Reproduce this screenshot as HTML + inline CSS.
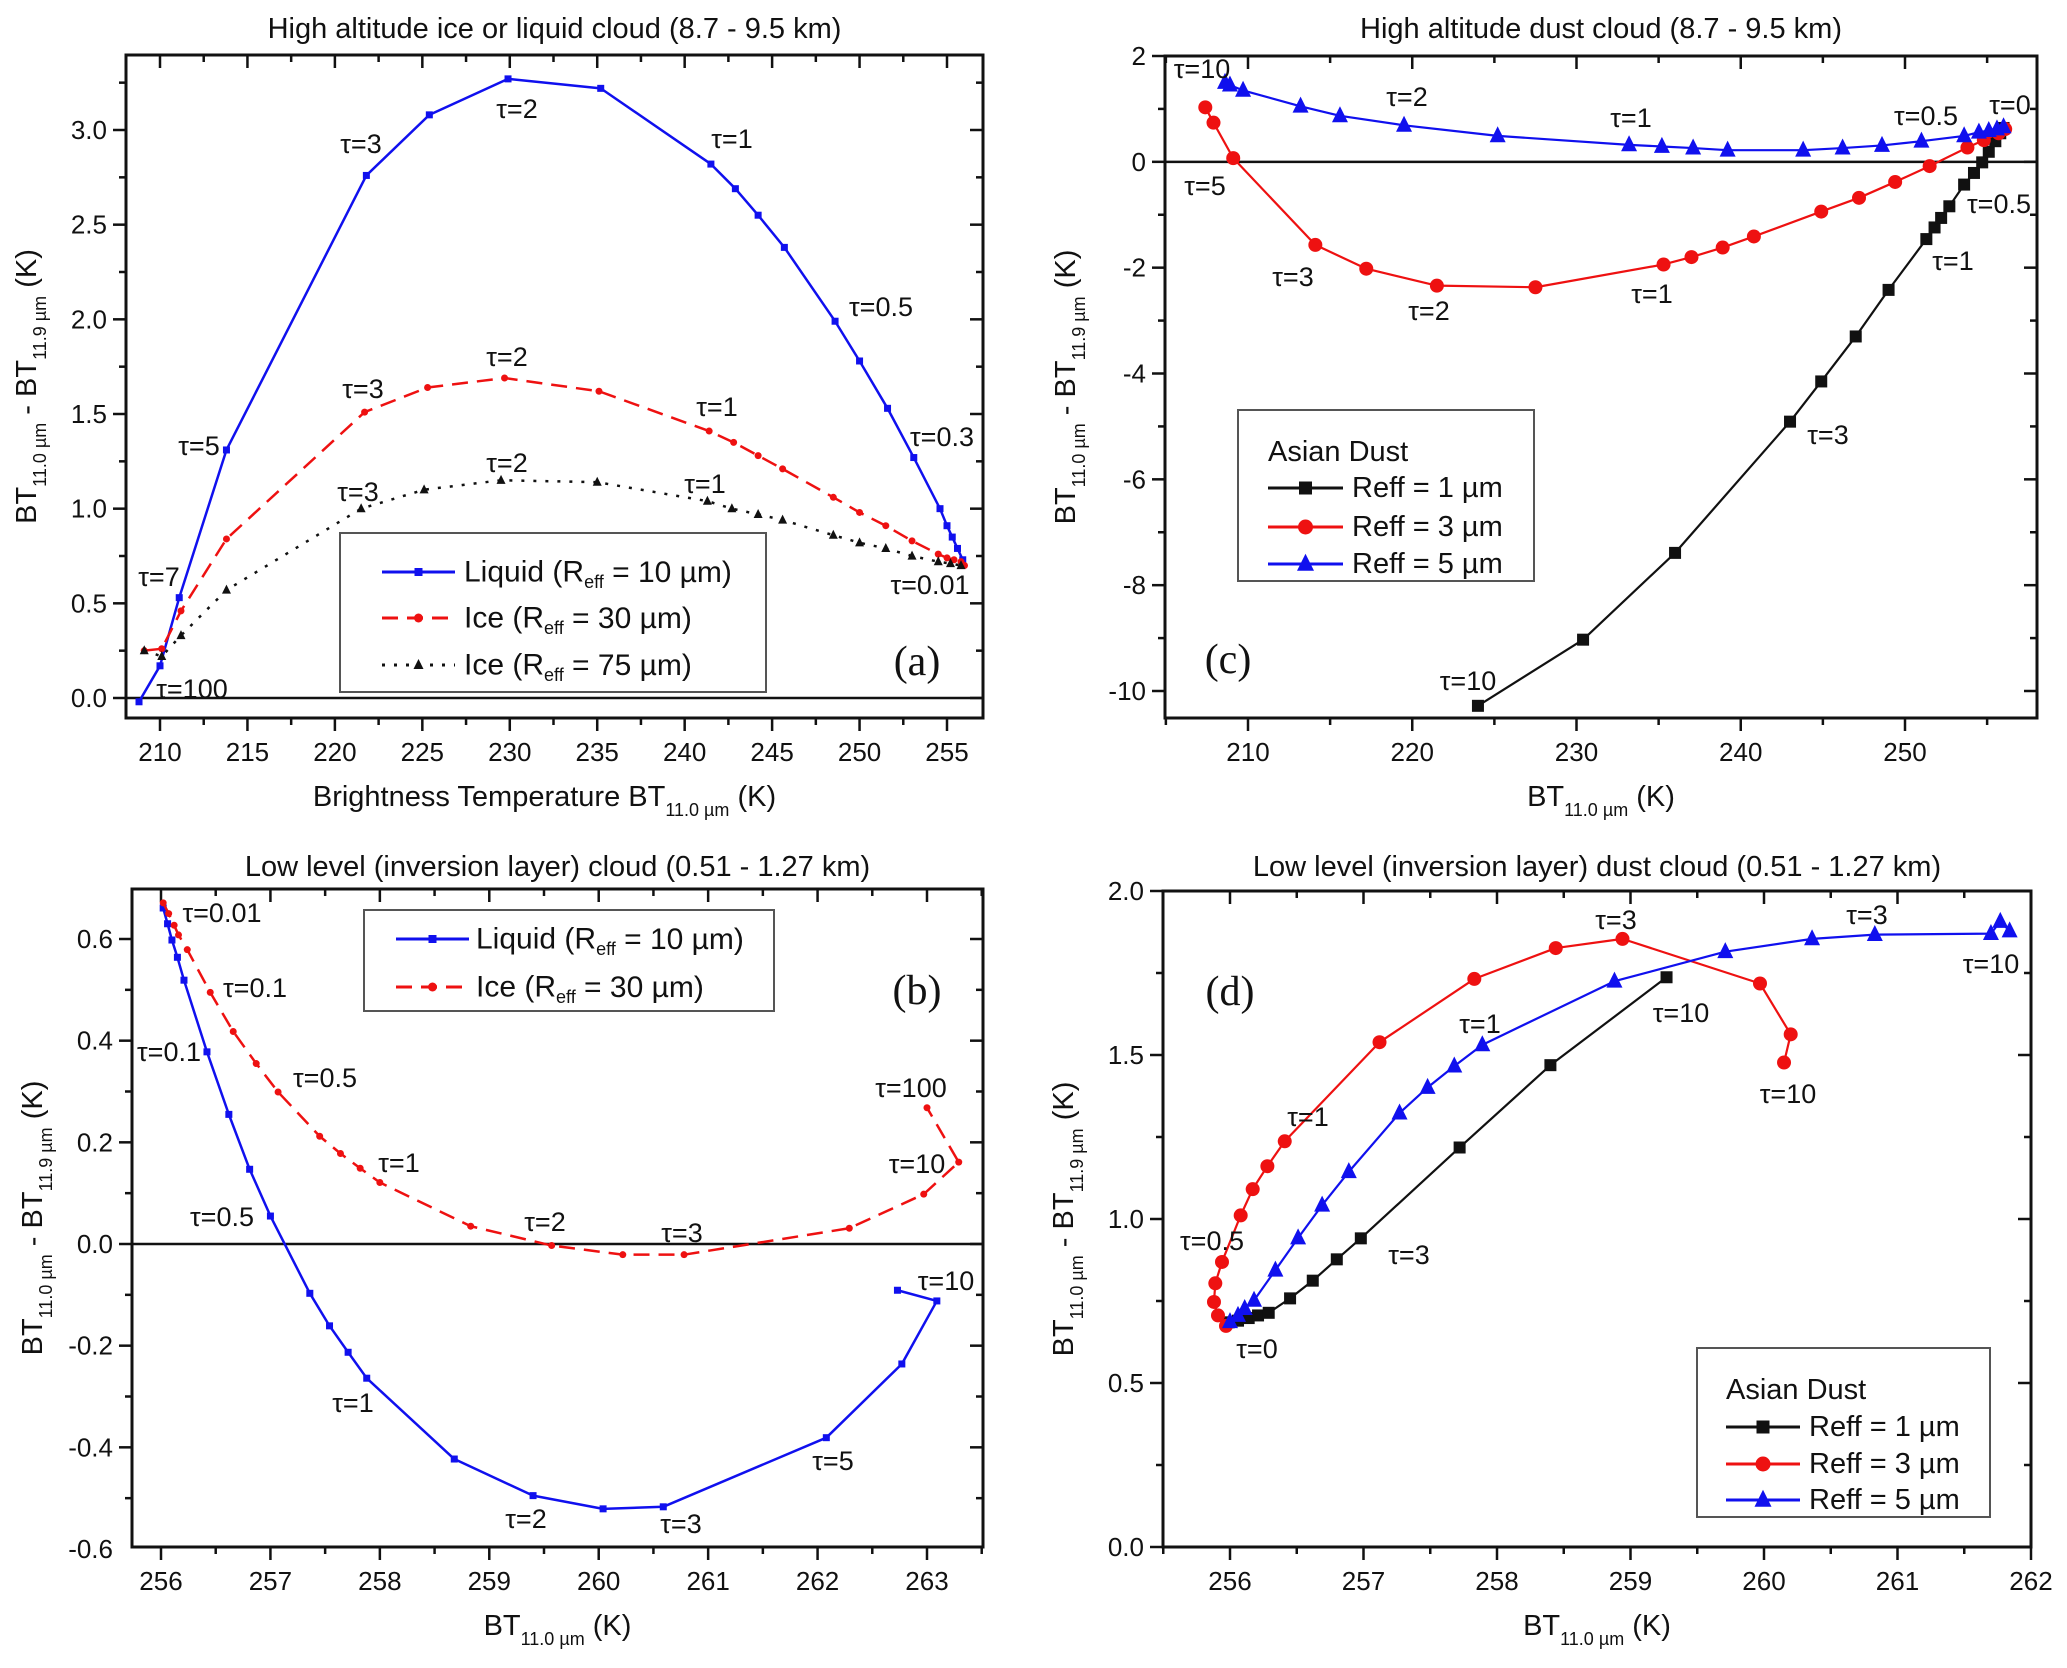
<!DOCTYPE html>
<html><head><meta charset="utf-8">
<style>
html,body{margin:0;padding:0;background:#fff;}
svg{display:block;font-family:"Liberation Sans",Arial,sans-serif;}
</style></head>
<body>
<svg id="fig" width="2067" height="1668" viewBox="0 0 2067 1668" xmlns="http://www.w3.org/2000/svg"></svg>
<script>
// ---------- Panel (a) data ----------
const aLiqX=[208.8,210,211.1,213.8,221.8,225.4,229.9,235.2,241.5,242.9,244.2,245.7,248.6,250.0,251.6,253.1,254.6,255.0,255.3,255.6,255.9];
const aLiqY=[-0.02,0.17,0.53,1.31,2.76,3.08,3.27,3.22,2.82,2.69,2.55,2.38,1.99,1.78,1.53,1.27,1.0,0.91,0.85,0.79,0.73];
const aIce30X=[209.1,210.1,211.2,213.8,221.7,225.3,229.7,235.1,241.4,242.8,244.2,245.6,248.5,250.0,251.5,253.0,254.5,255.0,255.4,255.8,256.0];
const aIce30Y=[0.25,0.26,0.46,0.84,1.51,1.64,1.69,1.62,1.41,1.35,1.28,1.21,1.06,0.98,0.91,0.83,0.76,0.74,0.73,0.72,0.70];
const aIce75X=[209.1,210.1,211.2,213.8,221.5,225.1,229.5,235.0,241.3,242.7,244.2,245.6,248.5,250.0,251.5,253.0,254.5,255.2,255.8];
const aIce75Y=[0.25,0.22,0.33,0.57,1.0,1.1,1.15,1.14,1.04,1.0,0.97,0.94,0.86,0.82,0.79,0.75,0.72,0.71,0.70];
// ---------- Panel (c) data ----------
const cR1X=[224.0,230.4,236.0,243.0,244.9,247.0,249.0,251.3,251.8,252.2,252.7,253.6,254.2,254.7,255.1,255.5,255.8,256.0];
const cR1Y=[-10.28,-9.03,-7.39,-4.91,-4.15,-3.30,-2.42,-1.46,-1.24,-1.06,-0.84,-0.43,-0.21,-0.01,0.19,0.39,0.54,0.64];
const cR3X=[207.4,207.9,209.1,214.1,217.2,221.5,227.5,235.3,237.0,238.9,240.8,244.9,247.2,249.4,251.5,253.8,254.8,255.7,256.1];
const cR3Y=[1.03,0.74,0.07,-1.57,-2.02,-2.34,-2.37,-1.94,-1.80,-1.62,-1.41,-0.94,-0.68,-0.38,-0.08,0.27,0.41,0.54,0.62];
const cR5X=[208.6,208.9,209.7,213.2,215.6,219.5,225.2,233.2,235.2,237.1,239.2,243.8,246.2,248.6,251.0,253.6,254.5,255.1,255.6,256.0];
const cR5Y=[1.50,1.45,1.35,1.05,0.87,0.69,0.49,0.32,0.29,0.26,0.22,0.22,0.26,0.31,0.39,0.49,0.56,0.59,0.62,0.66];
// ---------- Panel (b) data ----------
const bLiqX=[256.02,256.06,256.1,256.15,256.21,256.42,256.62,256.81,257.0,257.36,257.54,257.71,257.88,258.68,259.40,260.04,260.59,262.08,262.77,263.09,262.73];
const bLiqY=[0.661,0.63,0.598,0.564,0.519,0.378,0.255,0.147,0.055,-0.097,-0.161,-0.213,-0.264,-0.423,-0.495,-0.521,-0.517,-0.381,-0.236,-0.112,-0.091];
const bIceX=[256.02,256.07,256.12,256.16,256.24,256.45,256.66,256.87,257.07,257.45,257.64,257.82,258.0,258.83,259.57,260.22,260.78,262.29,262.97,263.29,263.0];
const bIceY=[0.671,0.65,0.627,0.608,0.579,0.495,0.418,0.355,0.299,0.212,0.178,0.149,0.121,0.035,-0.003,-0.021,-0.021,0.031,0.098,0.161,0.268];
// ---------- Panel (d) data ----------
const dR1X=[255.99,256.06,256.14,256.21,256.29,256.45,256.62,256.8,256.98,257.72,258.4,259.27];
const dR1Y=[0.685,0.69,0.698,0.706,0.714,0.758,0.812,0.877,0.941,1.218,1.469,1.737];
const dR3X=[255.97,255.91,255.88,255.89,255.94,256.08,256.17,256.28,256.41,257.12,257.83,258.44,258.94,259.97,260.2,260.15];
const dR3Y=[0.674,0.706,0.747,0.804,0.869,1.011,1.091,1.161,1.237,1.539,1.732,1.826,1.854,1.718,1.563,1.477];
const dR5X=[256.0,256.06,256.11,256.18,256.34,256.51,256.69,256.89,257.27,257.48,257.68,257.89,258.88,259.71,260.36,260.83,261.7,261.77,261.84];
const dR5Y=[0.687,0.706,0.727,0.752,0.844,0.942,1.042,1.144,1.323,1.401,1.466,1.531,1.725,1.815,1.854,1.867,1.87,1.907,1.878];
// tick labels
const aXTicks=[210,215,220,225,230,235,240,245,250,255];
const aYTicks=["0.0","0.5","1.0","1.5","2.0","2.5","3.0"];
const cXTicks=[210,220,230,240,250];
const cYTicks=["-10","-8","-6","-4","-2","0","2"];
const bXTicks=[256,257,258,259,260,261,262,263];
const bYTicks=["-0.6","-0.4","-0.2","0.0","0.2","0.4","0.6"];
const dXTicks=[256,257,258,259,260,261,262];
const dYTicks=["0.0","0.5","1.0","1.5","2.0"];

const NS="http://www.w3.org/2000/svg";
const svg=document.getElementById('fig');
function mk(tag,attrs,parent){const e=document.createElementNS(NS,tag);for(const k in attrs)e.setAttribute(k,attrs[k]);(parent||svg).appendChild(e);return e;}
function lin(d0,d1,p0,p1){return v=>p0+(v-d0)*(p1-p0)/(d1-d0);}

function panel(P){
  const g=mk('g',{});
  
  
  const sx=lin(P.x0,P.x1,P.L,P.R), sy=lin(P.y0,P.y1,P.B,P.T);
  P.sx=sx;P.sy=sy;
  const t=mk('text',{x:(P.L+P.R)/2,y:P.titleY,'text-anchor':'middle','font-size':29,fill:'#111'},g);
  t.textContent=P.title;
  
  
  const tg=mk('g',{stroke:'#111','stroke-width':2.5},g);
  for(let v=P.xMinStart;v<=P.x1+1e-9;v+=P.xMinor){
    const major=Math.abs((v-P.xMajStart)/P.xMajor-Math.round((v-P.xMajStart)/P.xMajor))<1e-6;
    const x=sx(v); if(x<P.L-0.5||x>P.R+0.5)continue;
    const len=major?13:7;
    mk('line',{x1:x,x2:x,y1:P.B,y2:P.B+len},tg);
    mk('line',{x1:x,x2:x,y1:P.T,y2:P.T+len},tg);
  }
  for(let v=P.yMinStart;v<=P.y1+1e-9;v+=P.yMinor){
    const major=Math.abs((v-P.yMajStart)/P.yMajor-Math.round((v-P.yMajStart)/P.yMajor))<1e-6;
    const y=sy(v); if(y<P.T-0.5||y>P.B+0.5)continue;
    const len=major?13:7;
    mk('line',{x1:P.L-len,x2:P.L,y1:y,y2:y},tg);
    mk('line',{x1:P.R-len,x2:P.R,y1:y,y2:y},tg);
  }
  P.xTicks.forEach(v=>{
    const e=mk('text',{x:sx(+v),y:P.B+43,'text-anchor':'middle','font-size':26,fill:'#111'},g);
    e.textContent=v;
    
    
  });
  P.yTicks.forEach(v=>{
    const e=mk('text',{x:P.L-19,y:sy(+v)+9,'text-anchor':'end','font-size':26,fill:'#111'},g);
    e.textContent=v;
    
    
  });
  if(P.zero){
    const z=mk('line',{x1:P.L,x2:P.R,y1:sy(0),y2:sy(0),stroke:'#111','stroke-width':2.5},g);
    
    
  }
  const f=mk('rect',{x:P.L,y:P.T,width:P.R-P.L,height:P.B-P.T,fill:'none',stroke:'#111','stroke-width':3},g);
  
  
  const xl=mk('text',{x:(P.L+P.R)/2+P.xlOff,y:P.B+88,'text-anchor':'middle','font-size':29,fill:'#111'},g);
  xl.innerHTML=P.xlabel;
  
  
  const yl=mk('text',{transform:`translate(${P.L-90},${(P.T+P.B)/2}) rotate(-90)`,'text-anchor':'middle','font-size':29,fill:'#111'},g);
  yl.innerHTML='BT<tspan font-size="18" dy="10">11.0 µm</tspan><tspan dy="-10"> - BT</tspan><tspan font-size="18" dy="10">11.9 µm</tspan><tspan dy="-10"> (K)</tspan>';
  
  
  return g;
}
function marker(g,type,x,y,s,color){
  if(type==='sq') return mk('rect',{x:x-s/2,y:y-s/2,width:s,height:s,fill:color},g);
  if(type==='ci') return mk('circle',{cx:x,cy:y,r:s/2,fill:color},g);
  if(type==='tr') return mk('polygon',{points:`${x},${y-s*0.6} ${x-s/2},${y+s*0.4} ${x+s/2},${y+s*0.4}`,fill:color},g);
}
function series(P,name,xs,ys,color,dash,mtype,ms,lw){
  const g=mk('g',{});
  
  
  const pts=xs.map((v,i)=>P.sx(v)+','+P.sy(ys[i])).join(' ');
  const l=mk('polyline',{points:pts,fill:'none',stroke:color,'stroke-width':lw,'stroke-dasharray':dash||'none','stroke-linejoin':'round'},g);
  
  
  xs.forEach((v,i)=>{
    const m=marker(g,mtype,P.sx(v),P.sy(ys[i]),ms,color);
    
    
  });
}
function label(txt,x,y,size,name){
  const e=mk('text',{x:x,y:y,'text-anchor':'middle','dominant-baseline':'central','font-size':size||27,fill:'#111'});
  e.textContent=txt;
  
  
  return e;
}
function panelLetter(txt,x,y){
  const e=mk('text',{x:x,y:y,'text-anchor':'middle','dominant-baseline':'central','font-size':42,'font-family':'"Liberation Serif",serif',fill:'#111'});
  e.textContent=txt;
  
  
}
function legend(name,box,title,entries,lineX0,lineX1,textX,fs){
  const g=mk('g',{});
  
  
  mk('rect',{x:box[0],y:box[1],width:box[2]-box[0],height:box[3]-box[1],fill:'#fff',stroke:'#555','stroke-width':2},g);
  if(title){const t=mk('text',{x:title[1],y:title[2],'dominant-baseline':'central','font-size':fs,fill:'#111'},g);t.textContent=title[0];}
  entries.forEach(en=>{
    const eg=mk('g',{},g);
    
    
    mk('line',{x1:lineX0,x2:lineX1,y1:en.y,y2:en.y,stroke:en.color,'stroke-width':en.lw,'stroke-dasharray':en.dash||'none'},eg);
    marker(eg,en.m,(lineX0+lineX1)/2,en.y,en.ms,en.color);
    const t=mk('text',{x:textX,y:en.y,'dominant-baseline':'central','font-size':fs,fill:'#111'},eg);
    t.innerHTML=en.html;
  });
}

// ---- Panel a ----
const PA={name:'panel-a',L:126,R:983,T:55,B:718,
  title:'High altitude ice or liquid cloud (8.7 - 9.5 km)',titleY:38,
  xMajor:5,xMinor:2.5,xMajStart:210,xMinStart:207.5,yMajor:0.5,yMinor:0.25,yMajStart:0,yMinStart:-0.25,
  xTicks:aXTicks,yTicks:aYTicks,zero:true,xlOff:-10,
  xlabel:'Brightness Temperature BT<tspan font-size="18" dy="10">11.0 µm</tspan><tspan dy="-10"> (K)</tspan>'};
(function(){const p0=160,p1=947;const k=(p1-p0)/45;PA.x0=210-(p0-PA.L)/k;PA.x1=255+(PA.R-p1)/k;
 const q0=698,q1=130;const m=(q0-q1)/3;PA.y0=0-(PA.B-q0)/m;PA.y1=3+(q1-PA.T)/m;})();
panel(PA);
series(PA,'liquid-10um',aLiqX,aLiqY,'#1010ee',null,'sq',7,2.5);
series(PA,'ice-30um',aIce30X,aIce30Y,'#ee1111','16 9','ci',7,2.5);
series(PA,'ice-75um',aIce75X,aIce75Y,'#111','3 9','tr',9,2.5);
[['τ=3',361,144],['τ=2',517,109],['τ=1',732,139],['τ=0.5',881,307],['τ=0.3',942,437],['τ=5',199,446],['τ=7',159,577],['τ=100',192,689],['τ=0.01',930,585],
 ['τ=3',363,389],['τ=2',507,357],['τ=1',717,407],['τ=3',358,492],['τ=2',507,463],['τ=1',705,484]].forEach(a=>label(a[0],a[1],a[2]));
panelLetter('(a)',917,662);
legend('legend-a',[340,533,766,692],null,[
 {y:572,color:'#1010ee',lw:3,m:'sq',ms:8,html:'Liquid (R<tspan font-size="18" dy="10">eff</tspan><tspan dy="-10"> = 10 µm)</tspan>'},
 {y:618,color:'#ee1111',lw:3,dash:'16 9',m:'ci',ms:9,html:'Ice (R<tspan font-size="18" dy="10">eff</tspan><tspan dy="-10"> = 30 µm)</tspan>'},
 {y:665,color:'#111',lw:3,dash:'3 9',m:'tr',ms:10,html:'Ice (R<tspan font-size="18" dy="10">eff</tspan><tspan dy="-10"> = 75 µm)</tspan>'}],382,455,464,30);

// ---- Panel c ----
const PC={name:'panel-c',L:1165,R:2037,T:56,B:718,
  title:'High altitude dust cloud (8.7 - 9.5 km)',titleY:38,
  xMajor:10,xMinor:5,xMajStart:210,xMinStart:200,yMajor:2,yMinor:1,yMajStart:0,yMinStart:-11,
  xTicks:cXTicks,yTicks:cYTicks,zero:true,xlOff:0,
  xlabel:'BT<tspan font-size="18" dy="10">11.0 µm</tspan><tspan dy="-10"> (K)</tspan>'};
(function(){const p0=1248,p1=1905;const k=(p1-p0)/40;PC.x0=210-(p0-PC.L)/k;PC.x1=250+(PC.R-p1)/k;
 const q0=691,q1=56;const m=(q0-q1)/12;PC.y0=-10-(PC.B-q0)/m;PC.y1=2+(q1-PC.T)/m;})();
panel(PC);
series(PC,'reff-1um',cR1X,cR1Y,'#111',null,'sq',12,2.2);
series(PC,'reff-3um',cR3X,cR3Y,'#ee1111',null,'ci',14,2.2);
series(PC,'reff-5um',cR5X,cR5Y,'#1010ee',null,'tr',16,2.2);
[['τ=10',1202,69],['τ=2',1407,97],['τ=1',1631,118],['τ=0.5',1926,116],['τ=0',2010,105],['τ=5',1205,186],['τ=0.5',1999,204],
 ['τ=3',1293,277],['τ=2',1429,311],['τ=1',1652,294],['τ=1',1953,261],['τ=3',1828,435],['τ=10',1468,681]].forEach(a=>label(a[0],a[1],a[2]));
panelLetter('(c)',1228,660);
legend('legend-c',[1238,410,1534,581],['Asian Dust',1268,452],[
 {y:488,color:'#111',lw:3,m:'sq',ms:13,html:'Reff = 1 µm'},
 {y:527,color:'#ee1111',lw:3,m:'ci',ms:15,html:'Reff = 3 µm'},
 {y:564,color:'#1010ee',lw:3,m:'tr',ms:17,html:'Reff = 5 µm'}],1268,1343,1352,29);

// ---- Panel b ----
const PB={name:'panel-b',L:132,R:983,T:889,B:1547,
  title:'Low level (inversion layer) cloud (0.51 - 1.27 km)',titleY:876,
  xMajor:1,xMinor:0.5,xMajStart:256,xMinStart:255.5,yMajor:0.2,yMinor:0.1,yMajStart:0,yMinStart:-0.6,
  xTicks:bXTicks,yTicks:bYTicks,zero:true,xlOff:0,
  xlabel:'BT<tspan font-size="18" dy="10">11.0 µm</tspan><tspan dy="-10"> (K)</tspan>'};
(function(){const p0=161,p1=927;const k=(p1-p0)/7;PB.x0=256-(p0-PB.L)/k;PB.x1=263+(PB.R-p1)/k;
 const q0=1244,q1=939;const m=(q0-q1)/0.6;PB.y0=0-(PB.B-q0)/m;PB.y1=0.6+(q1-PB.T)/m;})();
panel(PB);
series(PB,'liquid-10um',bLiqX,bLiqY,'#1010ee',null,'sq',7,2.5);
series(PB,'ice-30um',bIceX,bIceY,'#ee1111','16 9','ci',7,2.5);
[['τ=0.01',222,913],['τ=0.1',255,988],['τ=0.1',169,1052],['τ=0.5',325,1078],['τ=1',399,1163],['τ=0.5',222,1217],['τ=2',545,1222],['τ=3',682,1233],
 ['τ=100',911,1088],['τ=10',917,1164],['τ=10',946,1281],['τ=1',353,1403],['τ=2',526,1519],['τ=3',681,1524],['τ=5',833,1461]].forEach(a=>label(a[0],a[1],a[2]));
panelLetter('(b)',917,991);
legend('legend-b',[364,910,774,1011],null,[
 {y:939,color:'#1010ee',lw:3,m:'sq',ms:8,html:'Liquid (R<tspan font-size="18" dy="10">eff</tspan><tspan dy="-10"> = 10 µm)</tspan>'},
 {y:987,color:'#ee1111',lw:3,dash:'16 9',m:'ci',ms:9,html:'Ice (R<tspan font-size="18" dy="10">eff</tspan><tspan dy="-10"> = 30 µm)</tspan>'}],396,469,476,30);

// ---- Panel d ----
const PD={name:'panel-d',L:1163,R:2031,T:891,B:1547,
  title:'Low level (inversion layer) dust cloud (0.51 - 1.27 km)',titleY:876,
  xMajor:1,xMinor:0.5,xMajStart:256,xMinStart:255.5,yMajor:0.5,yMinor:0.25,yMajStart:0,yMinStart:0,
  xTicks:dXTicks,yTicks:dYTicks,zero:false,xlOff:0,
  xlabel:'BT<tspan font-size="18" dy="10">11.0 µm</tspan><tspan dy="-10"> (K)</tspan>'};
(function(){const p0=1230,p1=2031;const k=(p1-p0)/6;PD.x0=256-(p0-PD.L)/k;PD.x1=262+(PD.R-p1)/k;
 PD.y0=0;PD.y1=2;})();
panel(PD);
series(PD,'reff-1um',dR1X,dR1Y,'#111',null,'sq',12,2.2);
series(PD,'reff-3um',dR3X,dR3Y,'#ee1111',null,'ci',14,2.2);
series(PD,'reff-5um',dR5X,dR5Y,'#1010ee',null,'tr',16,2.2);
[['τ=3',1616,920],['τ=3',1867,915],['τ=10',1991,964],['τ=10',1681,1013],['τ=1',1480,1024],['τ=10',1788,1094],['τ=1',1308,1117],
 ['τ=0.5',1212,1241],['τ=3',1409,1255],['τ=0',1257,1349]].forEach(a=>label(a[0],a[1],a[2]));
panelLetter('(d)',1230,992);
legend('legend-d',[1697,1348,1990,1517],['Asian Dust',1726,1390],[
 {y:1427,color:'#111',lw:3,m:'sq',ms:13,html:'Reff = 1 µm'},
 {y:1464,color:'#ee1111',lw:3,m:'ci',ms:15,html:'Reff = 3 µm'},
 {y:1500,color:'#1010ee',lw:3,m:'tr',ms:17,html:'Reff = 5 µm'}],1726,1800,1809,29);
</script>
</body></html>
